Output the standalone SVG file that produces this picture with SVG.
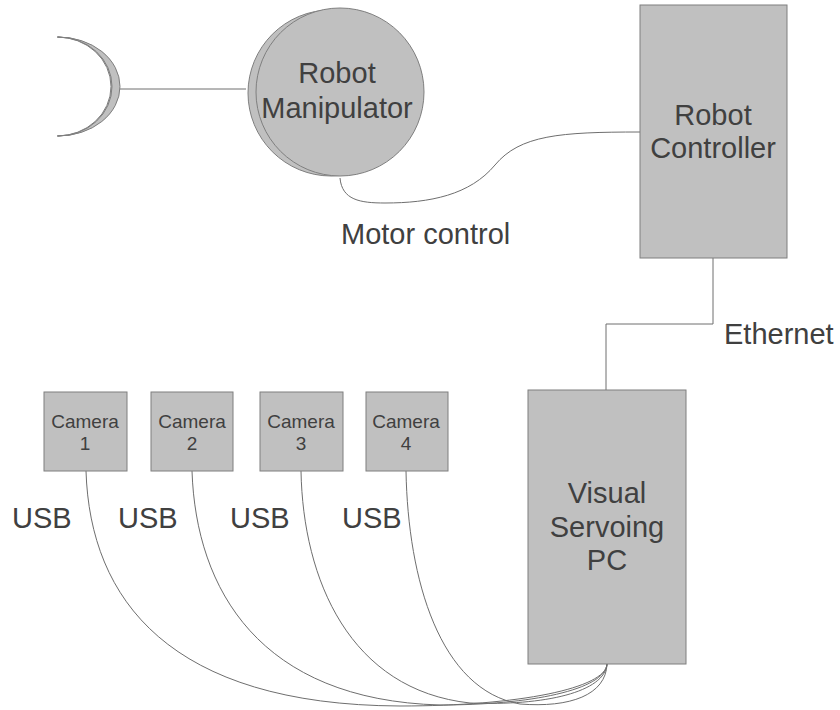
<svg xmlns="http://www.w3.org/2000/svg" width="840" height="710" viewBox="0 0 840 710">
  <style>
    .shape { fill: #c0c0c0; stroke: #7f7f7f; stroke-width: 1; }
    .wire { fill: none; stroke: #6e6e6e; stroke-width: 1; }
    .label { font-family: "Liberation Sans", Arial, sans-serif; fill: #404040; }
    .big { font-size: 29px; }
    .small { font-size: 19px; }
  </style>
  <rect width="840" height="710" fill="#ffffff"/>

  <!-- connectors -->
  <g id="connectors">
    <line class="wire" x1="120" y1="89" x2="246" y2="89" stroke="#999999"/>
    <path class="wire" d="M340,178 C342,200 360,203 385,203 C430,203 470,195 495,165 C520,135 560,132 640,132"/>
    <path class="wire" d="M713,258 V324 H606 V390"/>
    <path class="wire" d="M86,471 C90,600 170,705 400,706 C520,706 606,688 607,664"/>
    <path class="wire" d="M192,471 C196,590 260,700 440,705 C530,705 605,690 607,664"/>
    <path class="wire" d="M301,471 C303,580 350,690 470,703 C545,706 605,692 607,664"/>
    <path class="wire" d="M406,471 C408,580 440,690 520,704 C570,708 606,695 607,664"/>
  </g>

  <!-- gripper: two half-ellipses forming a crescent, with a darker back edge -->
  <g id="gripper">
    <path class="shape" d="M57,37 A62 49.5 0 0 1 57,136 A54 49.5 0 0 0 57,37 Z" fill="#a0a0a0" stroke="#555555"/>
    <path class="shape" d="M58,37 A62 49.5 0 0 1 58,136 A54 49.5 0 0 0 58,37 Z"/>
  </g>

  <!-- robot manipulator -->
  <g id="robot-manipulator">
    <circle class="shape" cx="331" cy="93" r="83" stroke="#555555"/>
    <circle class="shape" cx="340" cy="92" r="84"/>
    <text class="label big" text-anchor="middle" x="337" y="83">Robot</text>
    <text class="label big" text-anchor="middle" x="337" y="118">Manipulator</text>
  </g>

  <!-- robot controller -->
  <g id="robot-controller">
    <rect class="shape" x="640" y="5" width="147" height="253"/>
    <text class="label big" text-anchor="middle" x="713" y="125">Robot</text>
    <text class="label big" text-anchor="middle" x="713" y="158">Controller</text>
  </g>

  <!-- visual servoing pc -->
  <g id="visual-servoing-pc">
    <rect class="shape" x="528" y="390" width="158" height="274"/>
    <text class="label big" text-anchor="middle" x="607" y="503">Visual</text>
    <text class="label big" text-anchor="middle" x="607" y="537">Servoing</text>
    <text class="label big" text-anchor="middle" x="607" y="570">PC</text>
  </g>

  <!-- cameras -->
  <g id="camera-1">
    <rect class="shape" x="44" y="392" width="83" height="79"/>
    <text class="label small" text-anchor="middle" x="85" y="428">Camera</text>
    <text class="label small" text-anchor="middle" x="85" y="450">1</text>
  </g>
  <g id="camera-2">
    <rect class="shape" x="151" y="392" width="82" height="79"/>
    <text class="label small" text-anchor="middle" x="192" y="428">Camera</text>
    <text class="label small" text-anchor="middle" x="192" y="450">2</text>
  </g>
  <g id="camera-3">
    <rect class="shape" x="260" y="392" width="83" height="79"/>
    <text class="label small" text-anchor="middle" x="301" y="428">Camera</text>
    <text class="label small" text-anchor="middle" x="301" y="450">3</text>
  </g>
  <g id="camera-4">
    <rect class="shape" x="366" y="392" width="82" height="79"/>
    <text class="label small" text-anchor="middle" x="406" y="428">Camera</text>
    <text class="label small" text-anchor="middle" x="406" y="450">4</text>
  </g>

  <!-- connector labels -->
  <g id="labels">
    <text class="label big" x="341" y="244">Motor control</text>
    <text class="label big" x="724" y="344">Ethernet</text>
    <text class="label big" x="12" y="528">USB</text>
    <text class="label big" x="118" y="528">USB</text>
    <text class="label big" x="230" y="528">USB</text>
    <text class="label big" x="342" y="528">USB</text>
  </g>
</svg>
